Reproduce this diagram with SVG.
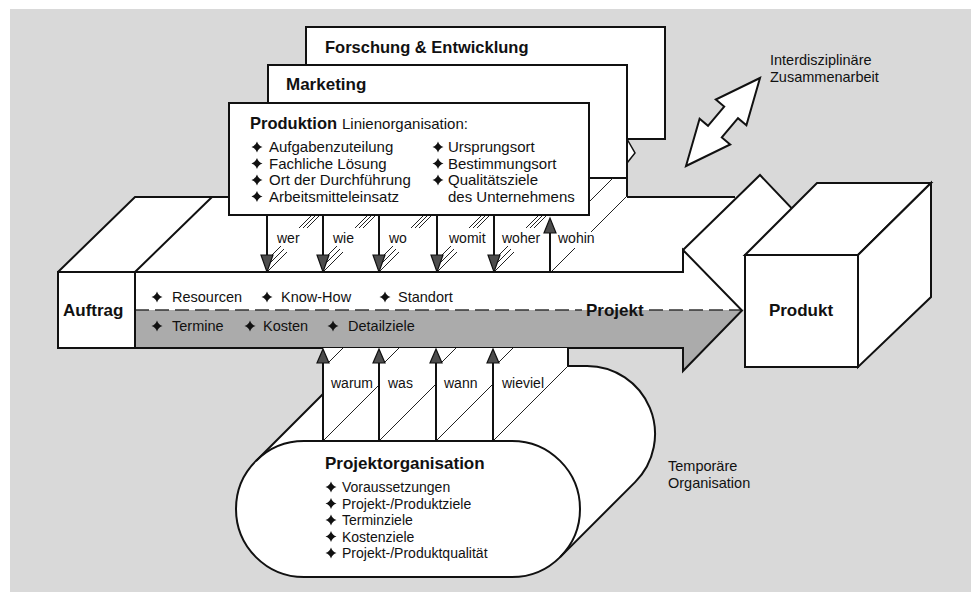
<svg xmlns="http://www.w3.org/2000/svg" width="971" height="592" viewBox="0 0 971 592">
<defs>
<style>
.t{font-family:"Liberation Sans",Arial,Helvetica,sans-serif;fill:#111}
.b{font-weight:bold;font-size:16.5px}
.r{font-size:15px}
.s{font-size:14px}
.m{font-size:14.5px}
.k{stroke:#111;stroke-width:2;fill:none;stroke-linejoin:miter}
.w{fill:#fff;stroke:#111;stroke-width:2}
.h{stroke:#222;stroke-width:1;fill:none}
.ah{fill:#4d4d4d;stroke:#111;stroke-width:1.2;stroke-linejoin:miter}
.d{stroke:#333;stroke-width:1.5;stroke-dasharray:14 6;fill:none}
</style>
<path id="st" d="M0,-5.5 Q1.4,-1.4 5.5,0 Q1.4,1.4 0,5.5 Q-1.4,1.4 -5.5,0 Q-1.4,-1.4 0,-5.5Z" fill="#111"/>
</defs>
<rect x="10" y="9" width="961" height="583" fill="#d9d9d9"/>

<g id="arrow-top">
<path d="M58,272 L135,197 L735,197 L760,175 L819,237 L742,310.5 L683,250 L683,272 Z" fill="#fff"/>
<path class="k" d="M58,272 L135,197 H229 M627,197 H735 M135,272 L212,197 M683,250 L760,175 L819,237"/>
</g>

<g id="forschung">
<rect class="w" x="306" y="27" width="359" height="112"/>
<polygon points="627,139 635,153 627,163" fill="#fff" stroke="#111" stroke-width="1.5"/>
<text class="t b" x="325" y="53">Forschung &amp; Entwicklung</text>
</g>

<g id="marketing">
<rect x="589" y="176" width="38" height="22" fill="#fff"/>
<rect class="w" x="268" y="65" width="359" height="113"/>
<path class="k" d="M627,178 V197"/>
<text class="t b" x="286" y="90" style="font-size:17px">Marketing</text>
</g>

<g id="produktion">
<rect class="w" x="229" y="103" width="360" height="112"/>
<text class="t" x="250" y="129"><tspan class="b">Produktion</tspan><tspan class="r" x="342">Linienorganisation:</tspan></text>
<use href="#st" x="257" y="147"/>
<use href="#st" x="257" y="163.5"/>
<use href="#st" x="257" y="180"/>
<use href="#st" x="257" y="196.5"/>
<text class="t r" x="269" y="152">Aufgabenzuteilung</text>
<text class="t r" x="269" y="168.5">Fachliche Lösung</text>
<text class="t r" x="269" y="185">Ort der Durchführung</text>
<text class="t r" x="269" y="201.5">Arbeitsmitteleinsatz</text>
<use href="#st" x="438" y="147"/>
<use href="#st" x="438" y="163.5"/>
<use href="#st" x="438" y="180"/>
<text class="t r" x="448" y="152">Ursprungsort</text>
<text class="t r" x="448" y="168.5">Bestimmungsort</text>
<text class="t r" x="448" y="185">Qualitätsziele</text>
<text class="t r" x="448" y="201.5">des Unternehmens</text>
</g>

<g id="connectors-top">
<path class="h" d="M267,272 L287,252 M266,267 L284,249 M265,262 L281,246 M299,228 L311,216 M303,228 L315,216 M307,228 L319,216
M323,272 L343,252 M322,267 L340,249 M321,262 L337,246 M355,228 L367,216 M359,228 L371,216 M363,228 L375,216
M379,272 L399,252 M378,267 L396,249 M377,262 L393,246 M411,228 L423,216 M415,228 L427,216 M419,228 L431,216
M437,272 L457,252 M436,267 L454,249 M435,262 L451,246 M469,228 L481,216 M473,228 L485,216 M477,228 L489,216
M494,272 L514,252 M493,267 L511,249 M492,262 L508,246 M526,228 L538,216 M530,228 L542,216 M534,228 L546,216
M551,272 L575,248 M591,232 L627,196 M590,201 L613,178"/>
<path class="k" d="M267,215 V256 M323,215 V256 M379,215 V256 M437,215 V256 M494,215 V256 M550,272 V232"/>
<polygon class="ah" points="261,255 273,255 267,272"/>
<polygon class="ah" points="317,255 329,255 323,272"/>
<polygon class="ah" points="373,255 385,255 379,272"/>
<polygon class="ah" points="431,255 443,255 437,272"/>
<polygon class="ah" points="488,255 500,255 494,272"/>
<polygon class="ah" points="544,233 556,233 550,218"/>
<text class="t s" x="277" y="243">wer</text>
<text class="t s" x="333" y="243">wie</text>
<text class="t s" x="389" y="243">wo</text>
<text class="t s" x="449" y="243">womit</text>
<text class="t s" x="502" y="243">woher</text>
<text class="t s" x="558" y="243">wohin</text>
</g>

<g id="projekt">
<path d="M58,272 H683 V250 L742,310.5 L683,371 V348 H58 Z" fill="#fff"/>
<path d="M135,310 H742 L683,371 V348 H135 Z" fill="#ababab"/>
<path class="d" d="M135,310 H582 M649,310 H741"/>
<path class="k" d="M58,272 H683 V250 L742,310.5 L683,371 V348 H58 Z M135,272 V348"/>
<text class="t b" x="63" y="316" style="font-size:17px">Auftrag</text>
<text class="t b" x="586" y="316" style="font-size:17px">Projekt</text>
<use href="#st" x="157" y="297"/>
<use href="#st" x="267" y="297"/>
<use href="#st" x="385" y="297"/>
<text class="t m" x="172" y="302">Resourcen</text>
<text class="t m" x="281" y="302">Know-How</text>
<text class="t m" x="398" y="302">Standort</text>
<use href="#st" x="157" y="326"/>
<use href="#st" x="250" y="326"/>
<use href="#st" x="333" y="326"/>
<text class="t m" x="172" y="331">Termine</text>
<text class="t m" x="263" y="331">Kosten</text>
<text class="t m" x="348" y="331">Detailziele</text>
</g>

<g id="produkt">
<polygon class="w" points="745,255 817,183 931,183 858,255"/>
<polygon class="w" points="858,255 931,183 931,297 858,367"/>
<rect class="w" x="745" y="255" width="113" height="112"/>
<text class="t b" x="801" y="316" text-anchor="middle" style="font-size:17px">Produkt</text>
</g>

<g id="projektorganisation">
<path d="M379,366 H587 A68,68 0 0 1 587,502 H379 A68,68 0 0 1 379,366 Z" fill="#fff"/>
<polygon points="256,461 331,386 635,482 560,557" fill="#fff"/>
<rect x="323" y="348" width="245" height="93" fill="#fff"/>
<path class="w" d="M304,441 H512 A68,68 0 0 1 512,577 H304 A68,68 0 0 1 304,441 Z"/>
<path class="k" d="M256,461 L323,394 M568,348 V366 H587 A68,68 0 0 1 635.1,482.1 L560.1,557.1"/>
<text class="t b" x="325" y="469" style="font-size:17px">Projektorganisation</text>
<use href="#st" x="331" y="487"/>
<use href="#st" x="331" y="503.5"/>
<use href="#st" x="331" y="520"/>
<use href="#st" x="331" y="536.5"/>
<use href="#st" x="331" y="553"/>
<text class="t s" x="342" y="492">Voraussetzungen</text>
<text class="t s" x="342" y="508.5">Projekt-/Produktziele</text>
<text class="t s" x="342" y="525">Terminziele</text>
<text class="t s" x="342" y="541.5">Kostenziele</text>
<text class="t s" x="342" y="558">Projekt-/Produktqualität</text>
</g>

<g id="connectors-bottom">
<path class="h" d="M323,441 L379,385 M379,441 L436,384 M436,441 L493,384 M493,441 L568,366 M328,363 L343,348 M384,363 L399,348 M441,363 L456,348 M498,363 L513,348"/>
<path class="k" d="M323,441 V362 M379,441 V362 M436,441 V362 M493,441 V362"/>
<polygon class="ah" points="317,363 329,363 323,349"/>
<polygon class="ah" points="373,363 385,363 379,349"/>
<polygon class="ah" points="430,363 442,363 436,349"/>
<polygon class="ah" points="487,363 499,363 493,349"/>
<text class="t s" x="331" y="388">warum</text>
<text class="t s" x="388" y="388">was</text>
<text class="t s" x="444" y="388">wann</text>
<text class="t s" x="502" y="388">wieviel</text>
</g>

<g id="zusammenarbeit">
<polygon class="w" points="760,78 746.4,125.3 738,118.2 721.8,137.4 730.2,144.5 686,166 699.6,118.7 708,125.8 724.2,106.6 715.8,99.5"/>
<text class="t m" x="770" y="65">Interdisziplinäre</text>
<text class="t m" x="770" y="82">Zusammenarbeit</text>
</g>

<g id="temporaer">
<text class="t m" x="668" y="471">Temporäre</text>
<text class="t m" x="668" y="488">Organisation</text>
</g>
</svg>
